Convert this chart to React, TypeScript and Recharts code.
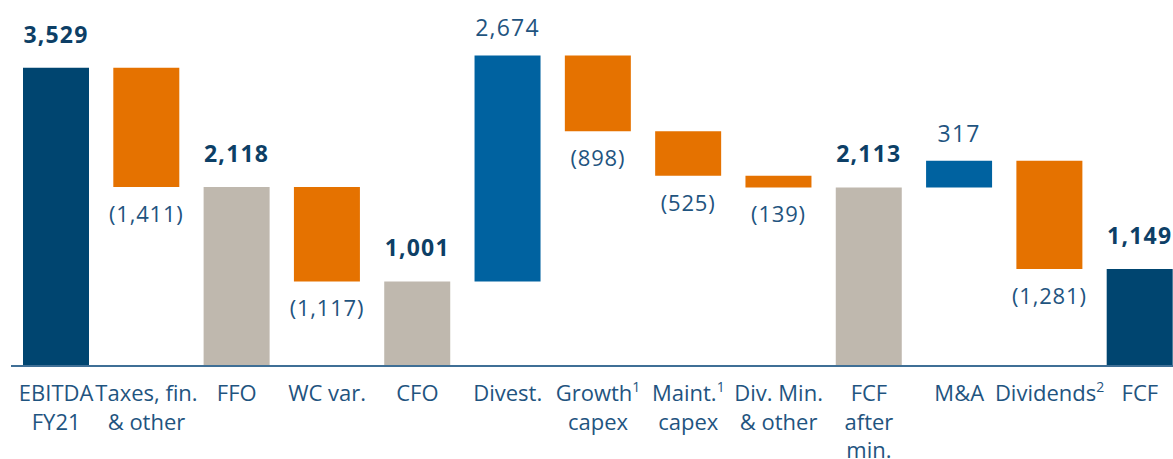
import React from 'react';
import { BarChart, Bar, XAxis, YAxis, Cell, LabelList } from 'recharts';

// categories (lines of the tick label; sup = superscript footnote)
const categories = [
  { lines: ['EBITDA', 'FY21'] },
  { lines: ['Taxes, fin.', '& other'] },
  { lines: ['FFO'] },
  { lines: ['WC var.'] },
  { lines: ['CFO'] },
  { lines: ['Divest.'] },
  { lines: ['Growth', 'capex'], sup: '1' },
  { lines: ['Maint.', 'capex'], sup: '1' },
  { lines: ['Div. Min.', '& other'] },
  { lines: ['FCF', 'after', 'min.'] },
  { lines: ['M&A'] },
  { lines: ['Dividends'], sup: '2' },
  { lines: ['FCF'] },
];

// signed movements; totals are absolute values
const values = [3529, -1411, 2118, -1117, 1001, 2674, -898, -525, -139, 2113, 317, -1281, 1149];
const kinds = ['total', 'neg', 'subtotal', 'neg', 'subtotal', 'pos', 'neg', 'neg', 'neg', 'subtotal', 'pos', 'neg', 'total'];

const COLORS: Record<string, string> = {
  total: '#004570',
  subtotal: '#bfb8ae',
  pos: '#0062a0',
  neg: '#e57200',
};
const TEXT = '#1f5480';
const BOLD_TEXT = '#0d3f66';
const FONT = '"Open Sans", sans-serif';

const fmt = (v: number) => {
  const s = Math.abs(v).toLocaleString('en-US');
  return v < 0 ? `(${s})` : s;
};

// build waterfall rows: invisible base + visible delta
let running = 0;
const data = values.map((v, i) => {
  const kind = kinds[i];
  let base = 0;
  let delta = 0;
  if (kind === 'total' || kind === 'subtotal') {
    base = 0;
    delta = v;
    running = v;
  } else if (kind === 'pos') {
    base = running;
    delta = v;
    running += v;
  } else {
    running += v;
    base = running;
    delta = -v;
  }
  return { name: String(i), base, delta, idx: i };
});

const CategoryTick = (props: any) => {
  const { x, y, payload } = props;
  const cat = categories[Number(payload.value)];
  return (
    <g transform={`translate(${x},${y})`}>
      {cat.lines.map((line, li) => (
        <text
          key={li}
          x={0}
          y={27 + li * 28.5}
          textAnchor="middle"
          fill={TEXT}
          fontSize={22}
          fontFamily={FONT}
        >
          {line}
          {li === 0 && cat.sup ? (
            <tspan fontSize={14} dy={-9}>{cat.sup}</tspan>
          ) : null}
        </text>
      ))}
    </g>
  );
};

const ValueLabel = (props: any) => {
  const { x, y, width, height, value } = props;
  const i = Number(value);
  const kind = kinds[i];
  const top = Math.min(y, y + height);
  const bottom = Math.max(y, y + height);
  const cx = x + width / 2;
  if (kind === 'neg') {
    return (
      <text x={cx} y={bottom + 35} textAnchor="middle" fill={TEXT} fontSize={22} letterSpacing={0.8} fontFamily={FONT}>
        {fmt(values[i])}
      </text>
    );
  }
  const bold = kind !== 'pos';
  return (
    <text
      x={cx}
      y={top - (bold ? 25 : 19)}
      textAnchor="middle"
      fill={bold ? BOLD_TEXT : TEXT}
      fontSize={23}
      letterSpacing={1.2}
      fontWeight={bold ? 700 : 400}
      fontFamily={FONT}
    >
      {fmt(values[i])}
    </text>
  );
};

export default function App() {
  return (
    <div
      style={{
        position: 'absolute',
        left: 0,
        top: 0,
        width: 1173,
        height: 459,
        overflow: 'hidden',
        background: '#ffffff',
      }}
    >
      <BarChart
        width={1185}
        height={459}
        data={data}
        margin={{ top: 28, right: 0, bottom: 0, left: 11 }}
        barSize={66}
      >
        <XAxis
          dataKey="name"
          axisLine={{ stroke: '#3f6f96', strokeWidth: 2 }}
          tickLine={false}
          interval={0}
          height={93}
          tick={<CategoryTick />}
        />
        <YAxis hide domain={[0, 4000]} allowDataOverflow />
        <Bar dataKey="base" stackId="w" fill="transparent" isAnimationActive={false} />
        <Bar dataKey="delta" stackId="w" isAnimationActive={false}>
          {data.map((d) => (
            <Cell key={d.idx} fill={COLORS[kinds[d.idx]]} />
          ))}
          <LabelList dataKey="idx" content={<ValueLabel />} />
        </Bar>
      </BarChart>
    </div>
  );
}
